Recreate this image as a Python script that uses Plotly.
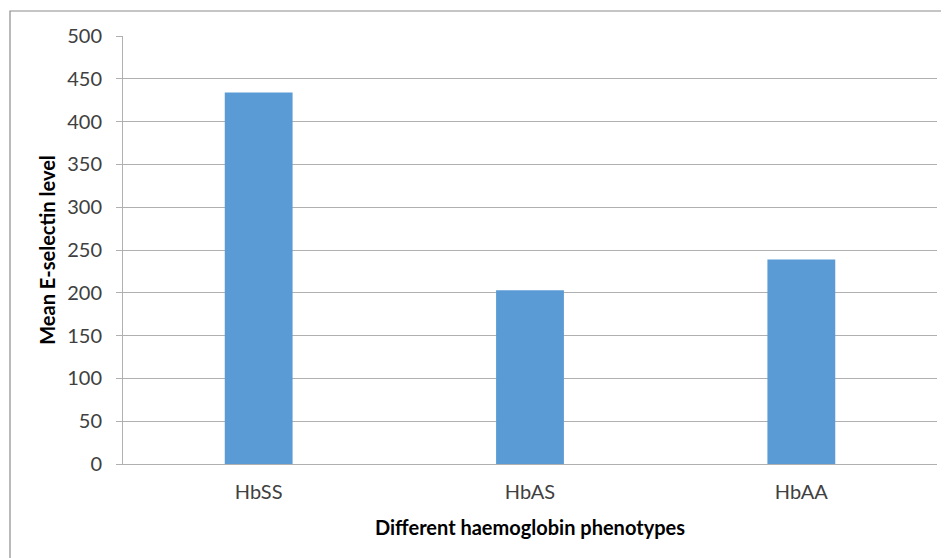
import plotly.graph_objects as go

categories = ["HbSS", "HbAS", "HbAA"]
mean_e_selectin = [434, 203, 239]
y_ticks = [0, 50, 100, 150, 200, 250, 300, 350, 400, 450, 500]

# page body has an 8px margin; size the figure so it fits the 949x558 window
OFF = 8
W, H = 949 - OFF, 558 - OFF
ML, MT = 123 - OFF, 36 - OFF
MR = W - (937 - OFF)
MB = H - (464 - OFF)
PW, PH = W - ML - MR, H - MT - MB

fig = go.Figure(go.Bar(
    x=categories, y=mean_e_selectin,
    marker=dict(color="#5b9bd5", line=dict(width=0)),
    width=0.25,
))

grid = "#b0b0b0"
fig.update_layout(
    width=W, height=H,
    margin=dict(l=ML, r=MR, t=MT, b=MB),
    paper_bgcolor="white", plot_bgcolor="white",
    font=dict(family="Lato", color="#404040"),
    showlegend=False,
    xaxis=dict(
        showgrid=False, showline=True, linecolor=grid, linewidth=1,
        ticks="", tickfont=dict(size=20, color="#404040"), ticklabelstandoff=10,
        title=dict(text="Different haemoglobin phenotypes",
                   font=dict(size=20, color="black", family="Lato", weight="bold"),
                   standoff=18),
    ),
    yaxis=dict(
        range=[0, 500], tickvals=y_ticks, showgrid=True, gridcolor=grid, gridwidth=1,
        showline=True, linecolor=grid, linewidth=1, zeroline=False,
        ticks="outside", ticklen=6, tickcolor=grid,
        tickfont=dict(size=20, color="#404040"), ticklabelstandoff=10,
        title=dict(text="Mean E-selectin level",
                   font=dict(size=20, color="black", family="Lato", weight="bold"),
                   standoff=6),
    ),
)

# outer chart border (left and top edges visible)
x0 = (10 - OFF - ML) / PW
x1 = (W + 20 - ML) / PW
y1 = (H - MB - (11 - OFF)) / PH
y0 = (H - MB - (H + 20)) / PH
fig.add_shape(type="rect", xref="paper", yref="paper", x0=x0, x1=x1, y0=y0, y1=y1,
              line=dict(color="#8c8c8c", width=1.2), layer="below")

fig.write_html("out.html")
